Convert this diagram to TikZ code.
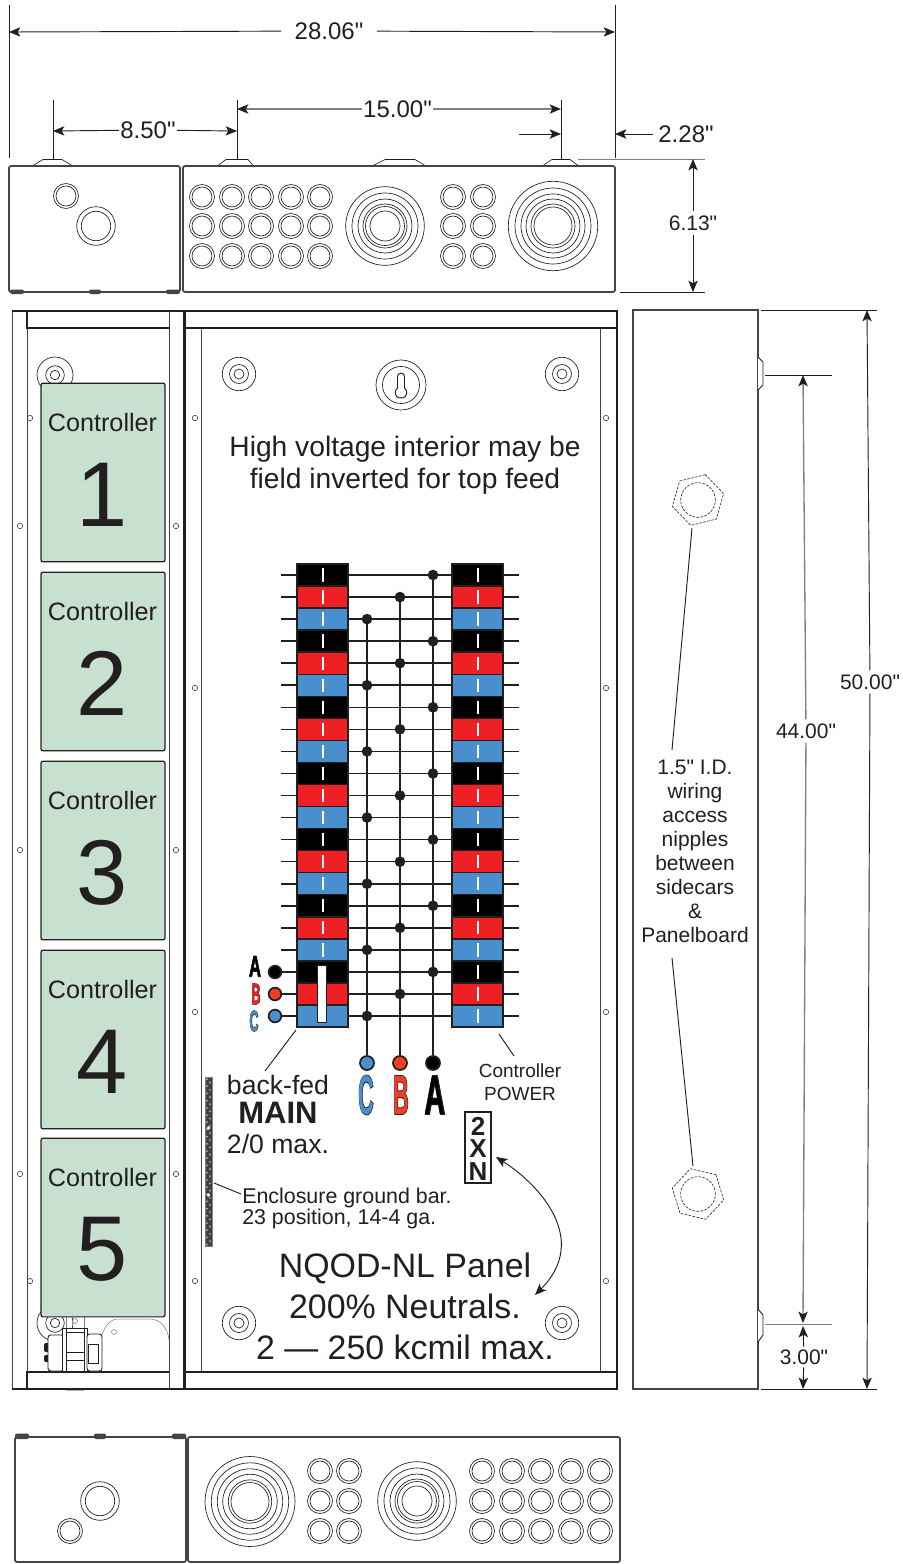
\documentclass[tikz,border=0pt]{standalone}
\usepackage{fontspec}
\usepackage{graphicx}
\setmainfont[Ligatures=TeXOff]{Liberation Sans}
\newfontfamily\outlfont[FakeBold=3]{Liberation Sans Bold}
\newfontfamily\fillfont{Liberation Sans Bold}
\usetikzlibrary{arrows.meta,shapes.geometric}
\definecolor{ink}{HTML}{231F20}
\definecolor{bkr}{HTML}{000000}
\definecolor{rdr}{HTML}{EE2024}
\definecolor{blr}{HTML}{4A8FCD}
\definecolor{grn}{HTML}{C8E0D0}
\definecolor{edge}{HTML}{444444}
\definecolor{midg}{HTML}{808080}
\definecolor{lblr}{HTML}{EF3E23}
\newcommand{\pxf}[1]{\fontsize{\dimexpr#1pt*3/4\relax}{\dimexpr#1pt*9/10\relax}\selectfont}
\newcommand{\cond}[5]{\scalebox{#3}[#4]{\pxf{#5}\makebox[0pt]{\outlfont\color{ink}#2}\makebox[0pt]{\fillfont\color{#1}#2}}}
\tikzset{
  thinl/.style={draw=ink,line width=0.7pt},
  ring/.style={draw=ink,line width=0.5pt},
  encl/.style={draw=edge,line width=1.3pt,rounded corners=1.5pt,fill=white},
  frame/.style={draw=ink,line width=1pt},
  inner/.style={draw=edge,line width=0.7pt},
  dim/.style={draw=ink,line width=0.7pt,-{Stealth[length=8.5pt,width=7pt,inset=2pt,color=ink]}},
  dimg/.style={dim,draw=midg,line width=1pt},
  ext/.style={draw=ink,line width=0.6pt},
  lbl/.style={text=ink,inner sep=3pt,align=center},
  ctrl/.style={draw=ink,line width=0.9pt,fill=grn,rounded corners=1.5pt,minimum width=93pt,minimum height=134pt,inner sep=0pt},
  hole/.style={draw=ink,line width=0.4pt,fill=white,circle,inner sep=0pt,minimum size=4pt},
  bkrbox/.style={draw=ink,line width=1.1pt,minimum width=38.25pt,minimum height=16.54pt,inner sep=0pt},
  bus/.style={draw=ink,line width=1.2pt},
  dotn/.style={circle,fill=ink,inner sep=0pt,minimum size=8pt},
  term/.style={circle,draw=ink,line width=1.3pt,inner sep=0pt,minimum size=10.5pt},
  lead/.style={draw=ink,line width=0.7pt},
  gray thin/.style={draw=gray,line width=0.4pt},
  foot/.style={fill=edge,rounded corners=1.5pt},
}
\newcommand{\kosm}[3]{\foreach \rr in {#3}{\draw[ring] (#1,#2) circle[radius=\rr];}}
\newcommand{\kogrid}[2]{\foreach \xx in {#1}{\foreach \yy in {#2}{\draw[ring] (\xx,\yy) circle[radius=12.5];\draw[ring] (\xx,\yy) circle[radius=10];}}}
\begin{document}
\begin{tikzpicture}[x=0.75pt,y=-0.75pt]
\useasboundingbox (0,0) rectangle (903,1564);
\fill[white] (0,0) rectangle (903,1564);
%% top enclosures
\foreach \a/\b/\c/\d in {33/43/62/72,218/226/248/253,373/385/415/425,543/552/570/578}{
  \draw[ring,fill=white] (\a,165.5) -- (\b,159.5) -- (\c,159.5) -- (\d,165.5);}
\draw[encl] (9,166) rectangle (180,292);
\draw[encl] (183,166) rectangle (615,292);
\foreach \a/\b in {10/24,89/101,166/180}{\fill[foot] (\a,289.5) rectangle (\b,294);}
\kosm{66}{196}{12.5,10}
\kosm{96}{226}{19.3,14.7}
\kogrid{202,232,261,291,320}{197,226,256}
\kogrid{453,483}{197,226,256}
\kosm{385}{226}{39.3,33,27,22,19.5,15}
\kosm{553}{226}{44.7,38,32,27,22,19}
%% bottom enclosures
\draw[encl] (15,1437) rectangle (186,1562);
\draw[encl] (188,1437) rectangle (620,1562);
\foreach \a/\b in {15/29,94/106,172/186}{\fill[foot] (\a,1433.5) rectangle (\b,1439);}
\kosm{70}{1531}{12.5,10}
\kosm{100}{1501}{19.3,14.7}
\kogrid{320,349}{1471,1501,1531}
\kogrid{482,512,541,571,600}{1471,1501,1531}
\kosm{250}{1501.5}{45,38.7,32.7,27.3,21.7,19}
\kosm{417}{1501}{39.3,33,27,22,19.5,15}
%% left sidecar
\draw[inner] (12,311) rectangle (184,1389);
\draw[frame] (12,311) -- (184,311) (184,311) -- (184,1389) (12,1389) -- (184,1389);
\draw[inner] (27,328) -- (27,1372);
\draw[inner] (169,311) -- (169,1389);
\draw[frame] (27,311) -- (27,328) -- (169,328);
\draw[frame] (27,1389) -- (27,1372) -- (169,1372);
\kosm{55}{375}{18,9.3,4.7}
\kosm{55}{1323}{18,9.3,4.7}
%% small component
\draw[gray thin] (66,1317) -- (66,1330) (84,1317) -- (84,1330);
\draw[gray thin] (75,1321) circle[radius=2.5];
\draw[gray thin] (102,1335) .. controls (105,1326) and (110,1319) .. (118,1319) -- (150,1319) .. controls (160,1319) and (168,1328) .. (169,1340);
\draw[gray thin] (114,1332) circle[radius=2.5];
\fill[ink,rounded corners=1pt] (44,1343) rectangle (49,1352);
\fill[ink,rounded corners=1pt] (44,1355) rectangle (49,1362);
\draw[thinl,fill=white,rounded corners=2pt] (48,1335) rectangle (64,1371);
\draw[thinl,fill=white] (62,1328) rectangle (87,1371);
\draw[thinl] (66,1328) -- (66,1371) (84,1328) -- (84,1371) (66,1352) -- (84,1352) (66,1360) -- (84,1360) (66,1332) -- (84,1332);
\draw[thinl,fill=white,rounded corners=2pt] (87,1334) rectangle (102,1371);
\draw[ring] (88,1344) rectangle (98,1363);
\fill[gray!60] (66,1389.5) rectangle (84,1391);
%% controllers
\foreach \n/\yy in {1/472.5,2/661.5,3/850.5,4/1039.5,5/1227.5}{
  \node[ctrl] (ctrl\n) at (103,\yy) {};
  \node[text=ink,inner sep=0pt] (ctrlt\n) at (102.5,\yy-50) {\pxf{25.2}Controller};
  \node[text=ink,inner sep=0pt] (ctrln\n) at (102,\yy+22) {\pxf{92}\n};
}
%% right panel
\draw[frame] (185,311) rectangle (617,1389);
\draw[inner] (201,328) -- (201,1372);
\draw[inner] (600,328) -- (600,1372);
\draw[frame] (186,328) -- (617,328);
\draw[frame] (186,1372) -- (617,1372);
\kosm{239}{374}{16.7,9.5,5}
\kosm{562}{374}{16.7,9.5,5}
\kosm{239}{1323}{16.7,9.5,5}
\kosm{562}{1323}{16.7,9.5,5}
\kosm{401}{385}{25,18.5}
\draw[ring,line width=0.7pt] (397.5,388) -- (397.5,376.5) .. controls (397.5,372) and (404.5,372) .. (404.5,376.5) -- (404.5,388) .. controls (408,390) and (408,398) .. (401,398) .. controls (394,398) and (394,390) .. (397.5,388) -- cycle;
\foreach \xx/\yy [count=\k] in {195/418,606/418,195/688,606/688,195/1012,606/1012,195/1281,606/1281,30/418,20/526,176/526,20/850,176/850,20/1174,176/1174,30/1281}{
  \node[hole] (hole\k) at (\xx,\yy) {};}
\node[lbl,inner sep=0pt] (hv1) at (405,449) {\pxf{28.2}High voltage interior may be};
\node[lbl,inner sep=0pt] (hv2) at (405,481) {\pxf{28.2}field inverted for top feed};
%% breakers
\foreach \i [evaluate=\i as \yy using 575+22.05*\i, evaluate=\i as \m using {int(mod(\i,3))}] in {0,...,20}{
  \ifnum\m=0 \def\cc{bkr}\fi
  \ifnum\m=1 \def\cc{rdr}\fi
  \ifnum\m=2 \def\cc{blr}\fi
  \node[bkrbox,fill=\cc] (L\i) at (322.5,\yy) {};
  \node[bkrbox,fill=\cc] (R\i) at (477.5,\yy) {};
  \draw[bus] (L\i) -- (R\i);
  \draw[white,line width=1.5pt] ([yshift=5pt]L\i.center) -- ([yshift=-5pt]L\i.center);
  \draw[white,line width=1.5pt] ([yshift=5pt]R\i.center) -- ([yshift=-5pt]R\i.center);
  \coordinate (Rs\i) at (519,\yy);
  \draw[bus] (R\i) -- (Rs\i);
  \coordinate (Ls\i) at (281,\yy);
  \ifnum\i<18 \draw[bus] (L\i) -- (Ls\i); \fi
}
%% buses
\node[term,fill=bkr] (tA) at (433,1063) {};
\node[term,fill=lblr] (tB) at (400,1063) {};
\node[term,fill=blr] (tC) at (367,1063) {};
\coordinate (busAtop) at (433,575);
\coordinate (busBtop) at (400,597.05);
\coordinate (busCtop) at (367,619.1);
\draw[bus] (busAtop) -- (tA);
\draw[bus] (busBtop) -- (tB);
\draw[bus] (busCtop) -- (tC);
\foreach \i [evaluate=\i as \yy using 575+22.05*\i, evaluate=\i as \m using {int(mod(\i,3))}] in {0,...,20}{
  \ifnum\m=0 \node[dotn] (dot\i) at (433,\yy) {};\fi
  \ifnum\m=1 \node[dotn] (dot\i) at (400,\yy) {};\fi
  \ifnum\m=2 \node[dotn] (dot\i) at (367,\yy) {};\fi
}
\node[inner sep=0pt] (labC) at (366,1095) {\cond{blr}{C}{0.72}{1.85}{30}};
\node[inner sep=0pt] (labB) at (401,1095) {\cond{lblr}{B}{0.72}{1.85}{30}};
\node[inner sep=0pt] (labA) at (435,1095) {\cond{bkr}{A}{0.95}{1.85}{30}};
%% main terminals
\node[term,fill=bkr,minimum size=9.5pt] (mA) at (275,972) {};
\node[term,fill=lblr,minimum size=9.5pt] (mB) at (275,994) {};
\node[term,fill=blr,minimum size=9.5pt] (mC) at (275,1016) {};
\draw[bus] (mA) -- (L18);
\draw[bus] (mB) -- (L19);
\draw[bus] (mC) -- (L20);
\node[draw=ink,line width=1pt,fill=white,minimum width=7pt,minimum height=43pt,inner sep=0pt] (mainbar) at (322,994) {};
\node[inner sep=0pt] (labmA) at (255,966.5) {\cond{bkr}{A}{0.55}{0.98}{30}};
\node[inner sep=0pt] (labmB) at (256,994) {\cond{rdr}{B}{0.42}{0.98}{30}};
\node[inner sep=0pt] (labmC) at (254,1021) {\cond{blr}{C}{0.42}{0.98}{30}};
%% labels centre
\node[lbl,inner sep=0pt] (bf1) at (278,1085) {\pxf{26.6}back-fed};
\node[lbl,inner sep=0pt] (bf2) at (278,1113) {\pxf{31}\bfseries MAIN};
\node[lbl,inner sep=0pt] (bf3) at (278,1144) {\pxf{26.6}2/0 max.};
\coordinate (bfa) at (296,1030);
\coordinate (bfb) at (265,1071);
\draw[lead] (bfa) -- (bfb);
\node[lbl,inner sep=0pt] (cp1) at (520,1071) {\pxf{19}Controller};
\node[lbl,inner sep=0pt] (cp2) at (520,1094) {\pxf{19}POWER};
\coordinate (cpa) at (499,1034);
\coordinate (cpb) at (514,1056);
\draw[lead] (cpa) -- (cpb);
\node[draw=ink,line width=1.1pt,fill=white,minimum width=19.5pt,minimum height=53pt,inner sep=0pt] (xn) at (478,1147.5) {};
\node[text=ink,inner sep=0pt] (xn2) at (478,1126) {\pxf{26}\bfseries 2};
\node[text=ink,inner sep=0pt] (xnx) at (478,1149) {\pxf{26}\bfseries X};
\node[text=ink,inner sep=0pt] (xnn) at (478,1172) {\pxf{26}\bfseries N};
\coordinate (caA) at (496,1157);
\coordinate (caB) at (535,1295);
\draw[lead,{Stealth[length=8.5pt,width=7pt,inset=2pt]}-{Stealth[length=8.5pt,width=7pt,inset=2pt]}] (caA) .. controls (540,1185) and (590,1240) .. (caB);
%% ground bar
\fill[ink!85] (205,1077) rectangle (212,1246);
\draw[draw=midg,line width=0.6pt] (205,1077) rectangle (212,1246);
\foreach \k in {0,...,46}{
  \pgfmathsetmacro{\gx}{mod(\k,2)==0 ? 207 : 210}
  \fill[gray!60] (\gx,1079+3.6*\k) circle[radius=1];}
\foreach \k in {1128,1195}{\fill[white] (208.5,\k) circle[radius=1.8];}
\node[text=ink,inner sep=0pt,anchor=base west] (gb1) at (242,1203.5) {\pxf{21.4}Enclosure ground bar.};
\node[text=ink,inner sep=0pt,anchor=base west] (gb2) at (242,1224.5) {\pxf{21.4}23 position, 14-4 ga.};
\coordinate (gba) at (214,1183);
\coordinate (gbb) at (241,1194);
\draw[lead] (gba) -- (gbb);
\node[lbl,inner sep=0pt,anchor=base] (nq1) at (405,1277) {\pxf{33.9}NQOD-NL Panel};
\node[lbl,inner sep=0pt,anchor=base] (nq2) at (405,1318) {\pxf{33.9}200\% Neutrals.};
\node[lbl,inner sep=0pt,anchor=base] (nq3) at (405,1359) {\pxf{33.9}2 — 250 kcmil max.};
%% side view
\draw[frame,draw=edge] (633,310) rectangle (758,1389);
\draw[ring,fill=white,line width=0.7pt] (758,357) -- (763,362) -- (763,385) -- (758,390);
\draw[ring,fill=white,line width=0.7pt] (758,1309) -- (763,1315) -- (763,1335) -- (758,1342);
\foreach \k/\yy/\rt/\cy in {a/500/14/500,b/1194/-13/1194}{
  \node[regular polygon,regular polygon sides=6,shape border rotate=\rt,draw=ink,line width=0.45pt,dash pattern=on 2pt off 1pt,minimum size=39.6pt,inner sep=0pt] (hex\k) at (698,\yy) {};
  \node[circle,draw=ink,line width=0.45pt,dash pattern=on 2pt off 1pt,minimum size=26pt,inner sep=0pt] (cir\k) at (698,\cy) {};
}
\foreach \t/\yy [count=\k] in {{1.5" I.D.}/774.5,wiring/798.5,access/822.5,nipples/846.5,between/870.5,sidecars/894.5,\&/918.5,Panelboard/942.5}{
  \node[text=ink,inner sep=0pt,anchor=base] (nip\k) at (695,\yy) {\pxf{21}\t};}
\coordinate (nla) at (692,528);
\coordinate (nlb) at (672,750);
\coordinate (nlc) at (672,958);
\coordinate (nld) at (693,1166);
\draw[lead] (nla) -- (nlb);
\draw[lead] (nlc) -- (nld);
%% dimensions
\coordinate (a9) at (9,32); \coordinate (a615) at (615,32);
\node[lbl,fill=white,inner xsep=10pt] (d28) at (329,31) {\pxf{24}28.06"};
\draw[dim] (d28) -- (a9); \draw[dim] (d28) -- (a615);
\draw[ext] (9,5) -- (9,158); \draw[ext] (615,5) -- (615,158);
\coordinate (a53) at (53,131); \coordinate (a237) at (237,131);
\node[lbl,fill=white,inner xsep=1pt] (d85) at (148,130) {\pxf{24}8.50"};
\draw[dim] (d85) -- (a53); \draw[dim] (d85) -- (a237);
\draw[ext] (53,100) -- (53,159); \draw[ext] (237,100) -- (237,159);
\coordinate (b237) at (237,109); \coordinate (b561) at (561,109);
\node[lbl,fill=white,inner xsep=1pt] (d15) at (397.5,109) {\pxf{24}15.00"};
\draw[dimg] (d15) -- (b237); \draw[dimg] (d15) -- (b561);
\draw[ext] (561,100) -- (561,159);
\coordinate (c519) at (519,134); \coordinate (c561) at (561,134);
\draw[dim] (c519) -- (c561);
\coordinate (c653) at (653,134); \coordinate (c615) at (615,134);
\draw[dim] (c653) -- (c615);
\node[text=ink,inner sep=0pt] (d22) at (686,134) {\pxf{24}2.28"};
\draw[ext,draw=midg] (578,159) -- (705,159);
\draw[ext] (620,292) -- (705,292);
\coordinate (e159) at (693,159); \coordinate (e292) at (693,292);
\node[lbl,fill=white] (d61) at (693,223) {\pxf{21}6.13"};
\draw[dim] (d61) -- (e159); \draw[dim] (d61) -- (e292);
\draw[ext] (761,310) -- (877,310);
\draw[ext] (761,1389) -- (877,1389);
\coordinate (f310) at (867,310); \coordinate (f1389) at (867,1389);
\node[lbl,fill=white,inner xsep=1pt] (d50) at (870,682) {\pxf{21}50.00"};
\draw[dim] (d50) -- (f310); \draw[dim] (d50) -- (f1389);
\draw[ext] (765,375) -- (832,375);
\draw[ext,draw=midg] (765,1324) -- (832,1324);
\coordinate (g375) at (803,375); \coordinate (g1320) at (803,1323);
\node[lbl,fill=white,inner xsep=1pt] (d44) at (806,731) {\pxf{21}44.00"};
\draw[dimg] (d44) -- (g375); \draw[dimg] (d44) -- (g1320);
\coordinate (h1321) at (803,1326); \coordinate (h1389) at (803,1389);
\node[lbl,fill=white,inner sep=2pt] (d3) at (804,1357) {\pxf{21}3.00"};
\draw[dim] (d3) -- (h1321); \draw[dim] (d3) -- (h1389);
\end{tikzpicture}
\end{document}
